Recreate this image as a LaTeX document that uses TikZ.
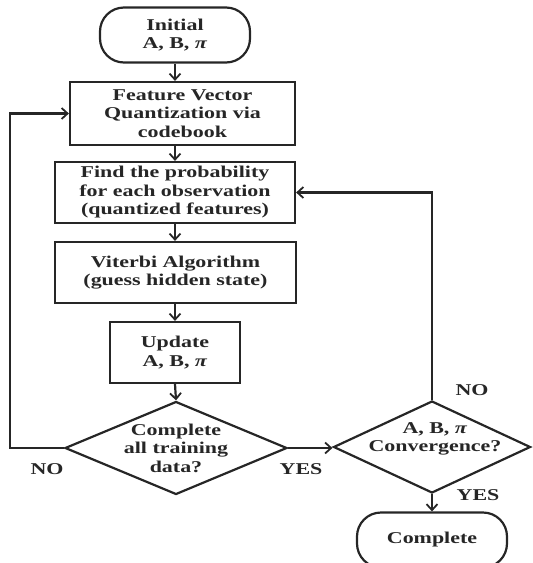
\documentclass[tikz,border=0pt]{standalone}
\usepackage{fontspec}
\setmainfont{Liberation Serif}[FakeStretch=1.33]
\usepackage{tikz}
\usetikzlibrary{positioning, calc}
\usetikzlibrary{arrows.meta}
\usetikzlibrary{shapes.geometric}
\definecolor{ink}{gray}{0.15}

\begin{document}
\begin{tikzpicture}[x = 1pt, y = -1pt,
    every node/.style = {font=\fontsize{16.5}{18.5}\selectfont\bfseries, text=ink},
    blocco/.style = {draw=ink, line width=2.2pt, rectangle, align=center, inner sep=0pt},
    terminale/.style = {blocco, rounded corners=24pt},
    scelta/.style = {draw=ink, line width=2.2pt, diamond, inner sep=0pt},
    freccia/.style = {draw=ink, line width=2.2pt, -{Straight Barb[length=6pt, width=11pt, line width=1.8pt]}}]

    % Cornice
    \useasboundingbox (0,0) rectangle (533,563);

    % Blocchi
    \node[terminale, minimum width=150pt, minimum height=55pt] (init) at (175,35) {Initial\\A, B, \textit{π}};
    \node[blocco, minimum width=225pt, minimum height=63pt] (feat) at (182.5,113.5) {Feature Vector\\Quantization via\\codebook};
    \node[blocco, minimum width=240pt, minimum height=61pt] (prob) at (175,192.5) {Find the probability\\for each observation\\(quantized features)};
    \node[blocco, minimum width=241pt, minimum height=61pt] (vit) at (175.5,272.5) {Viterbi Algorithm\\(guess hidden state)};
    \node[blocco, minimum width=130pt, minimum height=61pt] (upd) at (175,352.5) {Update\\A, B, \textit{π}};

    % Decisioni
    \node[scelta, minimum width=222pt, minimum height=93pt,
          label={[align=center]center:Complete\\all training\\data?}] (chk) at (176,448) {};
    \node[scelta, minimum width=197pt, minimum height=92pt,
          label={[align=center, yshift=8pt, xshift=3pt]center:A, B, \textit{π}\\Convergence?}] (conv) at (432,447) {};

    % Fine (tagliato in basso)
    \begin{scope}
        \clip (0,0) rectangle (533,563);
        \node[terminale, minimum width=150pt, minimum height=55pt] (done) at (432,540) {Complete};
    \end{scope}

    % Frecce verticali
    \draw[freccia] (init.south) -- (init.south |- feat.north);
    \draw[freccia] (init.south |- feat.south) -- (init.south |- prob.north);
    \draw[freccia] (init.south |- prob.south) -- (init.south |- vit.north);
    \draw[freccia] (init.south |- vit.south) -- (init.south |- upd.north);
    \draw[freccia] (upd.south) -- (chk.north);

    % Ritorno NO a sinistra
    \coordinate (lft) at (10,113.5);
    \draw[freccia] (chk.west) -| (lft) -- (feat.west);
    \node at (47,469) {NO};

    % YES verso la convergenza
    \draw[freccia] (chk.east) -- (chk.east -| conv.west);
    \node at (301,469) {YES};

    % Ritorno NO a destra
    \draw[freccia] (conv.north) |- (prob.east);
    \node at (472,390) {NO};

    % YES verso la fine
    \draw[freccia] (conv.south) -- (done.north);
    \node at (478,495) {YES};

\end{tikzpicture}
\end{document}
